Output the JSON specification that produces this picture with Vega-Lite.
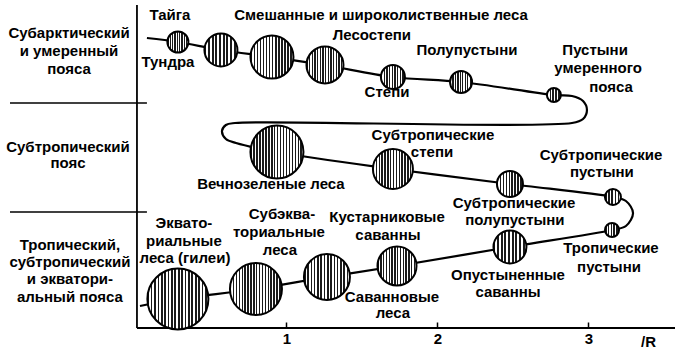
{
  "$schema": "https://vega.github.io/schema/vega-lite/v6.json",
  "width": 675,
  "height": 353,
  "padding": 0,
  "autosize": {"type": "none"},
  "background": "white",
  "config": {"view": {"stroke": null}, "font": "Liberation Sans"},
  "datasets": {
    "circles": [
      {"biome": "Тундра / тайга", "x": 0.281, "y": 286, "v": 21},
      {"biome": "Смешанные леса", "x": 0.566, "y": 278, "v": 33},
      {"biome": "Широколиственные леса", "x": 0.904, "y": 271, "v": 43},
      {"biome": "Лесостепи", "x": 1.255, "y": 263, "v": 37},
      {"biome": "Степи", "x": 1.705, "y": 251, "v": 24},
      {"biome": "Полупустыни", "x": 2.156, "y": 246, "v": 22},
      {"biome": "Пустыни умеренного пояса", "x": 2.771, "y": 233, "v": 14},
      {"biome": "Вечнозеленые леса", "x": 0.937, "y": 176, "v": 53},
      {"biome": "Субтропические степи", "x": 1.705, "y": 159, "v": 40},
      {"biome": "Субтропические полупустыни", "x": 2.48, "y": 144, "v": 26},
      {"biome": "Субтропические пустыни", "x": 3.162, "y": 131, "v": 16},
      {"biome": "Тропические пустыни", "x": 3.156, "y": 98, "v": 14},
      {"biome": "Опустыненные саванны", "x": 2.48, "y": 81, "v": 33},
      {"biome": "Кустарниковые саванны", "x": 1.732, "y": 62, "v": 39},
      {"biome": "Саванновые леса", "x": 1.268, "y": 51, "v": 46},
      {"biome": "Субэкваториальные леса", "x": 0.798, "y": 39, "v": 52},
      {"biome": "Экваториальные леса", "x": 0.281, "y": 29, "v": 61}
    ],
    "path": [
      {"i": 1, "x": 0.076, "y": 290},
      {"i": 2, "x": 0.281, "y": 286},
      {"i": 3, "x": 0.566, "y": 278},
      {"i": 4, "x": 0.904, "y": 271},
      {"i": 5, "x": 1.255, "y": 263},
      {"i": 6, "x": 1.705, "y": 251},
      {"i": 7, "x": 2.156, "y": 246},
      {"i": 8, "x": 2.771, "y": 233},
      {"i": 9, "x": 2.891, "y": 232},
      {"i": 10, "x": 2.964, "y": 227},
      {"i": 11, "x": 2.99, "y": 218},
      {"i": 12, "x": 2.964, "y": 209},
      {"i": 13, "x": 2.891, "y": 205},
      {"i": 14, "x": 0.659, "y": 205},
      {"i": 15, "x": 0.599, "y": 203},
      {"i": 16, "x": 0.573, "y": 197},
      {"i": 17, "x": 0.599, "y": 189},
      {"i": 18, "x": 0.666, "y": 185},
      {"i": 19, "x": 0.937, "y": 176},
      {"i": 20, "x": 1.705, "y": 159},
      {"i": 21, "x": 2.48, "y": 144},
      {"i": 22, "x": 3.162, "y": 131},
      {"i": 23, "x": 3.248, "y": 127},
      {"i": 24, "x": 3.295, "y": 115},
      {"i": 25, "x": 3.248, "y": 102},
      {"i": 26, "x": 3.156, "y": 98},
      {"i": 27, "x": 2.48, "y": 81},
      {"i": 28, "x": 1.732, "y": 62},
      {"i": 29, "x": 1.268, "y": 51},
      {"i": 30, "x": 0.798, "y": 39},
      {"i": 31, "x": 0.281, "y": 29},
      {"i": 32, "x": 0.03, "y": 22}
    ],
    "labels": [
      {"t": "Тайга", "x": 0.228, "y": 313},
      {"t": "Тундра", "x": 0.215, "y": 266},
      {"t": "Смешанные и широколиственные леса", "x": 1.626, "y": 313},
      {"t": "Лесостепи", "x": 1.566, "y": 293},
      {"t": "Степи", "x": 1.666, "y": 236},
      {"t": "Полупустыни", "x": 2.195, "y": 278},
      {"t": "Пустыни", "x": 3.044, "y": 278},
      {"t": "умеренного", "x": 3.064, "y": 260},
      {"t": "пояса", "x": 3.149, "y": 241},
      {"t": "Субтропические", "x": 1.97, "y": 193},
      {"t": "степи", "x": 1.964, "y": 176},
      {"t": "Субтропические", "x": 3.083, "y": 173},
      {"t": "пустыни", "x": 3.089, "y": 156},
      {"t": "Вечнозеленые леса", "x": 0.897, "y": 144},
      {"t": "Субтропические", "x": 2.507, "y": 125},
      {"t": "полупустыни", "x": 2.513, "y": 108},
      {"t": "Тропические", "x": 3.149, "y": 80},
      {"t": "пустыни", "x": 3.136, "y": 61},
      {"t": "Опустыненные", "x": 2.467, "y": 53},
      {"t": "саванны", "x": 2.467, "y": 36},
      {"t": "Кустарниковые", "x": 1.666, "y": 111},
      {"t": "саванны", "x": 1.672, "y": 93},
      {"t": "Саванновые", "x": 1.699, "y": 31},
      {"t": "леса", "x": 1.705, "y": 15},
      {"t": "Эквато-", "x": 0.321, "y": 105},
      {"t": "риальные", "x": 0.321, "y": 87},
      {"t": "леса (гилеи)", "x": 0.328, "y": 70},
      {"t": "Субэква-", "x": 0.97, "y": 114},
      {"t": "ториальные", "x": 0.95, "y": 96},
      {"t": "леса", "x": 0.957, "y": 78},
      {"t": "Субарктический", "x": -0.44, "y": 295},
      {"t": "и умеренный", "x": -0.44, "y": 277},
      {"t": "пояса", "x": -0.44, "y": 259},
      {"t": "Субтропический", "x": -0.447, "y": 181},
      {"t": "пояс", "x": -0.447, "y": 165},
      {"t": "Тропический,", "x": -0.434, "y": 83},
      {"t": "субтропический", "x": -0.434, "y": 66},
      {"t": "и экватори-", "x": -0.434, "y": 49},
      {"t": "альный пояса", "x": -0.434, "y": 31}
    ]
  },
  "layer": [
    {
      "data": {"values": [{}]},
      "mark": {"type": "rule", "stroke": "black", "strokeWidth": 1.8},
      "encoding": {
        "x": {
          "datum": 0.01,
          "type": "quantitative",
          "scale": {"domain": [-0.897, 3.573], "nice": false, "zero": false},
          "axis": {
            "values": [1, 2, 3],
            "format": "d",
            "domain": false,
            "grid": false,
            "ticks": true,
            "tickSize": -6,
            "tickColor": "black",
            "tickWidth": 1.5,
            "labelFont": "Liberation Sans",
            "labelFontSize": 15,
            "labelFontWeight": "bold",
            "labelColor": "black",
            "labelPadding": 9,
            "offset": -25,
            "title": "/R",
            "titleFont": "Liberation Sans",
            "titleFontSize": 15,
            "titleFontWeight": "bold",
            "titleColor": "black",
            "titleX": 648,
            "titleY": 13,
            "titleAlign": "center",
            "titleBaseline": "middle",
            "titleAngle": 0
          }
        },
        "x2": {"datum": 3.573},
        "y": {"datum": 0, "type": "quantitative", "scale": {"domain": [-25, 328], "nice": false, "zero": false}, "axis": null}
      }
    },
    {
      "data": {"values": [{}]},
      "mark": {"type": "rule", "stroke": "black", "strokeWidth": 1.8},
      "encoding": {
        "x": {"datum": 0.01, "type": "quantitative"},
        "y": {"datum": 0, "type": "quantitative"},
        "y2": {"datum": 323}
      }
    },
    {
      "data": {"values": [{"belt": "граница 1", "y": 225}, {"belt": "граница 2", "y": 116}]},
      "mark": {"type": "rule", "stroke": "black", "strokeWidth": 1.6},
      "encoding": {
        "x": {"datum": -0.831, "type": "quantitative"},
        "x2": {"datum": 0.076},
        "y": {"field": "y", "type": "quantitative"}
      }
    },
    {
      "data": {"name": "path"},
      "mark": {"type": "line", "stroke": "black", "strokeWidth": 2.2, "interpolate": "catmull-rom"},
      "encoding": {
        "x": {"field": "x", "type": "quantitative"},
        "y": {"field": "y", "type": "quantitative"},
        "order": {"field": "i", "type": "quantitative"}
      }
    },
    {
      "data": {"name": "circles"},
      "transform": [{"filter": "datum.v < 20"}],
      "mark": {"type": "point", "shape": "circle", "filled": true, "opacity": 1, "stroke": "black", "strokeWidth": 2,
        "fill": {"gradient": "linear", "x1": 0, "x2": 1, "y1": 0, "y2": 0, "stops": [
          {"offset": 0, "color": "#1a1a1a"}, {"offset": 0.11, "color": "#1a1a1a"}, {"offset": 0.11, "color": "#ffffff"}, {"offset": 0.2, "color": "#ffffff"},
          {"offset": 0.2, "color": "#1a1a1a"}, {"offset": 0.31, "color": "#1a1a1a"}, {"offset": 0.31, "color": "#ffffff"}, {"offset": 0.4, "color": "#ffffff"},
          {"offset": 0.4, "color": "#1a1a1a"}, {"offset": 0.51, "color": "#1a1a1a"}, {"offset": 0.51, "color": "#ffffff"}, {"offset": 0.6, "color": "#ffffff"},
          {"offset": 0.6, "color": "#1a1a1a"}, {"offset": 0.71, "color": "#1a1a1a"}, {"offset": 0.71, "color": "#ffffff"}, {"offset": 0.8, "color": "#ffffff"},
          {"offset": 0.8, "color": "#1a1a1a"}, {"offset": 0.91, "color": "#1a1a1a"}, {"offset": 0.91, "color": "#ffffff"}, {"offset": 1, "color": "#ffffff"}
        ]}},
      "encoding": {
        "x": {"field": "x", "type": "quantitative"},
        "y": {"field": "y", "type": "quantitative"},
        "size": {"field": "v", "type": "quantitative", "scale": {"type": "pow", "exponent": 2, "domain": [0, 60], "range": [0, 3600]}, "legend": null}
      }
    },
    {
      "data": {"name": "circles"},
      "transform": [{"filter": "datum.v >= 20 && datum.v < 35"}],
      "mark": {"type": "point", "shape": "circle", "filled": true, "opacity": 1, "stroke": "black", "strokeWidth": 2,
        "fill": {"gradient": "linear", "x1": 0, "x2": 1, "y1": 0, "y2": 0, "stops": [
          {"offset": 0, "color": "#1a1a1a"}, {"offset": 0.0556, "color": "#1a1a1a"}, {"offset": 0.0556, "color": "#ffffff"}, {"offset": 0.1111, "color": "#ffffff"},
          {"offset": 0.1111, "color": "#1a1a1a"}, {"offset": 0.1667, "color": "#1a1a1a"}, {"offset": 0.1667, "color": "#ffffff"}, {"offset": 0.2222, "color": "#ffffff"},
          {"offset": 0.2222, "color": "#1a1a1a"}, {"offset": 0.2778, "color": "#1a1a1a"}, {"offset": 0.2778, "color": "#ffffff"}, {"offset": 0.3333, "color": "#ffffff"},
          {"offset": 0.3333, "color": "#1a1a1a"}, {"offset": 0.3889, "color": "#1a1a1a"}, {"offset": 0.3889, "color": "#ffffff"}, {"offset": 0.4444, "color": "#ffffff"},
          {"offset": 0.4444, "color": "#1a1a1a"}, {"offset": 0.5, "color": "#1a1a1a"}, {"offset": 0.5, "color": "#ffffff"}, {"offset": 0.5556, "color": "#ffffff"},
          {"offset": 0.5556, "color": "#1a1a1a"}, {"offset": 0.6111, "color": "#1a1a1a"}, {"offset": 0.6111, "color": "#ffffff"}, {"offset": 0.6667, "color": "#ffffff"},
          {"offset": 0.6667, "color": "#1a1a1a"}, {"offset": 0.7222, "color": "#1a1a1a"}, {"offset": 0.7222, "color": "#ffffff"}, {"offset": 0.7778, "color": "#ffffff"},
          {"offset": 0.7778, "color": "#1a1a1a"}, {"offset": 0.8333, "color": "#1a1a1a"}, {"offset": 0.8333, "color": "#ffffff"}, {"offset": 0.8889, "color": "#ffffff"},
          {"offset": 0.8889, "color": "#1a1a1a"}, {"offset": 0.9444, "color": "#1a1a1a"}, {"offset": 0.9444, "color": "#ffffff"}, {"offset": 1, "color": "#ffffff"}
        ]}},
      "encoding": {
        "x": {"field": "x", "type": "quantitative"},
        "y": {"field": "y", "type": "quantitative"},
        "size": {"field": "v", "type": "quantitative", "legend": null}
      }
    },
    {
      "data": {"name": "circles"},
      "transform": [{"filter": "datum.v >= 35 && datum.v < 48"}],
      "mark": {"type": "point", "shape": "circle", "filled": true, "opacity": 1, "stroke": "black", "strokeWidth": 2,
        "fill": {"gradient": "linear", "x1": 0, "x2": 1, "y1": 0, "y2": 0, "stops": [
          {"offset": 0, "color": "#1a1a1a"}, {"offset": 0.0357, "color": "#1a1a1a"}, {"offset": 0.0357, "color": "#ffffff"}, {"offset": 0.0714, "color": "#ffffff"},
          {"offset": 0.0714, "color": "#1a1a1a"}, {"offset": 0.1071, "color": "#1a1a1a"}, {"offset": 0.1071, "color": "#ffffff"}, {"offset": 0.1429, "color": "#ffffff"},
          {"offset": 0.1429, "color": "#1a1a1a"}, {"offset": 0.1786, "color": "#1a1a1a"}, {"offset": 0.1786, "color": "#ffffff"}, {"offset": 0.2143, "color": "#ffffff"},
          {"offset": 0.2143, "color": "#1a1a1a"}, {"offset": 0.25, "color": "#1a1a1a"}, {"offset": 0.25, "color": "#ffffff"}, {"offset": 0.2857, "color": "#ffffff"},
          {"offset": 0.2857, "color": "#1a1a1a"}, {"offset": 0.3214, "color": "#1a1a1a"}, {"offset": 0.3214, "color": "#ffffff"}, {"offset": 0.3571, "color": "#ffffff"},
          {"offset": 0.3571, "color": "#1a1a1a"}, {"offset": 0.3929, "color": "#1a1a1a"}, {"offset": 0.3929, "color": "#ffffff"}, {"offset": 0.4286, "color": "#ffffff"},
          {"offset": 0.4286, "color": "#1a1a1a"}, {"offset": 0.4643, "color": "#1a1a1a"}, {"offset": 0.4643, "color": "#ffffff"}, {"offset": 0.5, "color": "#ffffff"},
          {"offset": 0.5, "color": "#1a1a1a"}, {"offset": 0.5357, "color": "#1a1a1a"}, {"offset": 0.5357, "color": "#ffffff"}, {"offset": 0.5714, "color": "#ffffff"},
          {"offset": 0.5714, "color": "#1a1a1a"}, {"offset": 0.6071, "color": "#1a1a1a"}, {"offset": 0.6071, "color": "#ffffff"}, {"offset": 0.6429, "color": "#ffffff"},
          {"offset": 0.6429, "color": "#1a1a1a"}, {"offset": 0.6786, "color": "#1a1a1a"}, {"offset": 0.6786, "color": "#ffffff"}, {"offset": 0.7143, "color": "#ffffff"},
          {"offset": 0.7143, "color": "#1a1a1a"}, {"offset": 0.75, "color": "#1a1a1a"}, {"offset": 0.75, "color": "#ffffff"}, {"offset": 0.7857, "color": "#ffffff"},
          {"offset": 0.7857, "color": "#1a1a1a"}, {"offset": 0.8214, "color": "#1a1a1a"}, {"offset": 0.8214, "color": "#ffffff"}, {"offset": 0.8571, "color": "#ffffff"},
          {"offset": 0.8571, "color": "#1a1a1a"}, {"offset": 0.8929, "color": "#1a1a1a"}, {"offset": 0.8929, "color": "#ffffff"}, {"offset": 0.9286, "color": "#ffffff"},
          {"offset": 0.9286, "color": "#1a1a1a"}, {"offset": 0.9643, "color": "#1a1a1a"}, {"offset": 0.9643, "color": "#ffffff"}, {"offset": 1, "color": "#ffffff"}
        ]}},
      "encoding": {
        "x": {"field": "x", "type": "quantitative"},
        "y": {"field": "y", "type": "quantitative"},
        "size": {"field": "v", "type": "quantitative", "legend": null}
      }
    },
    {
      "data": {"name": "circles"},
      "transform": [{"filter": "datum.v >= 48"}],
      "mark": {"type": "point", "shape": "circle", "filled": true, "opacity": 1, "stroke": "black", "strokeWidth": 2,
        "fill": {"gradient": "linear", "x1": 0, "x2": 1, "y1": 0, "y2": 0, "stops": [
          {"offset": 0, "color": "#1a1a1a"}, {"offset": 0.0278, "color": "#1a1a1a"}, {"offset": 0.0278, "color": "#ffffff"}, {"offset": 0.0556, "color": "#ffffff"},
          {"offset": 0.0556, "color": "#1a1a1a"}, {"offset": 0.0833, "color": "#1a1a1a"}, {"offset": 0.0833, "color": "#ffffff"}, {"offset": 0.1111, "color": "#ffffff"},
          {"offset": 0.1111, "color": "#1a1a1a"}, {"offset": 0.1389, "color": "#1a1a1a"}, {"offset": 0.1389, "color": "#ffffff"}, {"offset": 0.1667, "color": "#ffffff"},
          {"offset": 0.1667, "color": "#1a1a1a"}, {"offset": 0.1944, "color": "#1a1a1a"}, {"offset": 0.1944, "color": "#ffffff"}, {"offset": 0.2222, "color": "#ffffff"},
          {"offset": 0.2222, "color": "#1a1a1a"}, {"offset": 0.25, "color": "#1a1a1a"}, {"offset": 0.25, "color": "#ffffff"}, {"offset": 0.2778, "color": "#ffffff"},
          {"offset": 0.2778, "color": "#1a1a1a"}, {"offset": 0.3056, "color": "#1a1a1a"}, {"offset": 0.3056, "color": "#ffffff"}, {"offset": 0.3333, "color": "#ffffff"},
          {"offset": 0.3333, "color": "#1a1a1a"}, {"offset": 0.3611, "color": "#1a1a1a"}, {"offset": 0.3611, "color": "#ffffff"}, {"offset": 0.3889, "color": "#ffffff"},
          {"offset": 0.3889, "color": "#1a1a1a"}, {"offset": 0.4167, "color": "#1a1a1a"}, {"offset": 0.4167, "color": "#ffffff"}, {"offset": 0.4444, "color": "#ffffff"},
          {"offset": 0.4444, "color": "#1a1a1a"}, {"offset": 0.4722, "color": "#1a1a1a"}, {"offset": 0.4722, "color": "#ffffff"}, {"offset": 0.5, "color": "#ffffff"},
          {"offset": 0.5, "color": "#1a1a1a"}, {"offset": 0.5278, "color": "#1a1a1a"}, {"offset": 0.5278, "color": "#ffffff"}, {"offset": 0.5556, "color": "#ffffff"},
          {"offset": 0.5556, "color": "#1a1a1a"}, {"offset": 0.5833, "color": "#1a1a1a"}, {"offset": 0.5833, "color": "#ffffff"}, {"offset": 0.6111, "color": "#ffffff"},
          {"offset": 0.6111, "color": "#1a1a1a"}, {"offset": 0.6389, "color": "#1a1a1a"}, {"offset": 0.6389, "color": "#ffffff"}, {"offset": 0.6667, "color": "#ffffff"},
          {"offset": 0.6667, "color": "#1a1a1a"}, {"offset": 0.6944, "color": "#1a1a1a"}, {"offset": 0.6944, "color": "#ffffff"}, {"offset": 0.7222, "color": "#ffffff"},
          {"offset": 0.7222, "color": "#1a1a1a"}, {"offset": 0.75, "color": "#1a1a1a"}, {"offset": 0.75, "color": "#ffffff"}, {"offset": 0.7778, "color": "#ffffff"},
          {"offset": 0.7778, "color": "#1a1a1a"}, {"offset": 0.8056, "color": "#1a1a1a"}, {"offset": 0.8056, "color": "#ffffff"}, {"offset": 0.8333, "color": "#ffffff"},
          {"offset": 0.8333, "color": "#1a1a1a"}, {"offset": 0.8611, "color": "#1a1a1a"}, {"offset": 0.8611, "color": "#ffffff"}, {"offset": 0.8889, "color": "#ffffff"},
          {"offset": 0.8889, "color": "#1a1a1a"}, {"offset": 0.9167, "color": "#1a1a1a"}, {"offset": 0.9167, "color": "#ffffff"}, {"offset": 0.9444, "color": "#ffffff"},
          {"offset": 0.9444, "color": "#1a1a1a"}, {"offset": 0.9722, "color": "#1a1a1a"}, {"offset": 0.9722, "color": "#ffffff"}, {"offset": 1, "color": "#ffffff"}
        ]}},
      "encoding": {
        "x": {"field": "x", "type": "quantitative"},
        "y": {"field": "y", "type": "quantitative"},
        "size": {"field": "v", "type": "quantitative", "legend": null}
      }
    },
    {
      "data": {"name": "labels"},
      "mark": {"type": "text", "font": "Liberation Sans", "fontSize": 15, "fontWeight": "bold", "color": "black", "align": "center", "baseline": "middle"},
      "encoding": {
        "x": {"field": "x", "type": "quantitative"},
        "y": {"field": "y", "type": "quantitative"},
        "text": {"field": "t"}
      }
    }
  ]
}
